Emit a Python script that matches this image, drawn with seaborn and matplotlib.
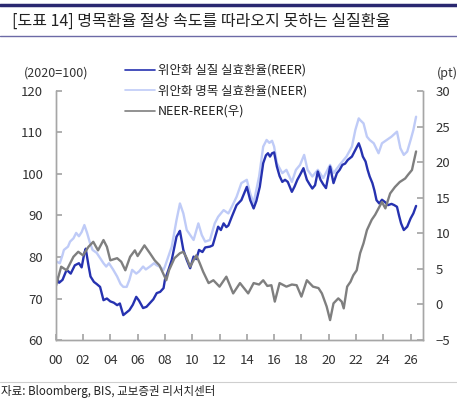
import numpy as np
import pandas as pd
import seaborn as sns
import matplotlib.pyplot as plt
from matplotlib.lines import Line2D

# 위안화 실질 실효환율 (REER), 2020=100
reer_year = [2000.0, 2000.25, 2000.5, 2000.8, 2001.1, 2001.4, 2001.7, 2001.9, 2002.1, 2002.2,
             2002.4, 2002.55, 2002.8, 2003.0, 2003.25, 2003.5, 2003.75, 2004.0, 2004.25, 2004.5,
             2004.7, 2004.95, 2005.1, 2005.4, 2005.65, 2005.9, 2006.1, 2006.4, 2006.65, 2006.9,
             2007.15, 2007.4, 2007.65, 2007.9, 2008.0, 2008.25, 2008.5, 2008.85, 2009.0, 2009.1,
             2009.35, 2009.6, 2009.85, 2010.1, 2010.3, 2010.5, 2010.75, 2010.95, 2011.3, 2011.5,
             2011.9, 2012.1, 2012.3, 2012.5, 2012.65, 2012.9, 2013.25, 2013.6, 2014.0, 2014.25,
             2014.5, 2014.7, 2014.95, 2015.2, 2015.4, 2015.55, 2015.7, 2015.85, 2016.0, 2016.2,
             2016.4, 2016.6, 2016.8, 2017.0, 2017.3, 2017.5, 2017.7, 2017.9, 2018.15, 2018.4,
             2018.6, 2018.8, 2019.0, 2019.2, 2019.4, 2019.6, 2019.8, 2020.1, 2020.35, 2020.6,
             2020.8, 2021.0, 2021.2, 2021.4, 2021.7, 2021.95, 2022.2, 2022.35, 2022.5, 2022.7,
             2022.85, 2023.0, 2023.2, 2023.35, 2023.5, 2023.7, 2023.9, 2024.1, 2024.35, 2024.6,
             2024.8, 2025.0, 2025.15, 2025.3, 2025.5, 2025.75, 2026.0, 2026.2, 2026.4]
reer = [75.5, 73.8, 74.5, 76.9, 76.0, 78.0, 78.5, 77.5, 81.0, 82.0,
        78.0, 75.3, 74.0, 73.5, 72.8, 69.6, 70.0, 69.3, 69.0, 68.4,
        68.8, 66.0, 66.4, 67.2, 68.5, 70.4, 69.5, 67.7, 68.0, 68.9,
        69.8, 71.3, 71.6, 72.5, 74.5, 76.8, 79.3, 84.9, 85.7, 86.3,
        81.7, 79.3, 77.3, 80.1, 79.5, 81.7, 81.2, 82.3, 82.5, 82.8,
        87.3, 86.5, 88.1, 87.2, 87.6, 89.7, 92.5, 93.7, 96.9, 93.7,
        91.7, 93.5, 96.9, 102.6, 104.5, 105.0, 104.2, 105.0, 105.2, 101.8,
        99.5, 98.1, 98.6, 98.1, 95.7, 97.0, 98.6, 99.8, 101.4, 98.6,
        97.5, 96.5, 97.3, 100.6, 98.6, 97.5, 96.6, 101.8, 97.8, 100.2,
        101.0, 102.2, 102.5, 103.4, 104.2, 105.8, 107.4, 106.0, 104.2, 103.0,
        101.0, 99.4, 97.8, 96.0, 93.7, 92.9, 93.8, 93.3, 92.5, 92.8,
        92.5, 92.1, 90.0, 88.1, 86.5, 87.3, 89.3, 90.5, 92.3]

# 위안화 명목 실효환율 (NEER), 2020=100
neer_year = [2000.0, 2000.3, 2000.5, 2000.6, 2000.9, 2001.05, 2001.3, 2001.5, 2001.7, 2001.9,
             2002.1, 2002.3, 2002.5, 2002.7, 2003.0, 2003.2, 2003.5, 2003.7, 2003.9, 2004.2,
             2004.5, 2004.75, 2004.95, 2005.2, 2005.4, 2005.6, 2005.9, 2006.1, 2006.4, 2006.6,
             2006.9, 2007.2, 2007.4, 2007.6, 2007.9, 2008.0, 2008.5, 2008.85, 2009.1, 2009.35,
             2009.6, 2009.85, 2010.1, 2010.45, 2010.7, 2010.95, 2011.3, 2011.65, 2011.9, 2012.3,
             2012.65, 2012.9, 2013.25, 2013.6, 2014.0, 2014.25, 2014.5, 2014.9, 2015.2, 2015.45,
             2015.65, 2015.85, 2016.0, 2016.2, 2016.6, 2016.9, 2017.3, 2017.6, 2017.9, 2018.2,
             2018.45, 2018.8, 2019.2, 2019.6, 2020.1, 2020.35, 2020.8, 2021.3, 2021.7, 2021.95,
             2022.2, 2022.3, 2022.55, 2022.8, 2023.0, 2023.3, 2023.65, 2023.9, 2024.25, 2024.6,
             2025.0, 2025.25, 2025.5, 2025.75, 2026.0, 2026.2, 2026.4]
neer = [79.0, 78.5, 80.5, 81.7, 82.5, 83.7, 84.5, 85.8, 85.0, 86.0,
        87.7, 85.8, 83.5, 81.7, 81.0, 80.0, 78.5, 77.7, 78.5, 77.0,
        75.3, 73.5, 72.8, 72.8, 74.5, 76.9, 76.0, 76.5, 77.7, 77.0,
        77.7, 78.5, 78.0, 77.7, 76.9, 77.7, 82.5, 88.9, 92.9, 90.5,
        86.5, 85.3, 84.1, 88.1, 85.3, 83.7, 84.1, 88.1, 89.7, 91.3,
        90.5, 92.1, 94.5, 97.8, 98.6, 95.3, 93.0, 99.4, 106.6, 108.2,
        107.5, 108.0, 106.6, 102.6, 100.2, 101.0, 98.1, 101.0, 102.2, 104.6,
        101.0, 99.4, 101.0, 99.0, 102.2, 100.2, 102.2, 104.2, 106.6, 110.6,
        113.4, 113.0, 112.2, 109.0, 108.2, 107.4, 105.0, 107.4, 108.2, 109.0,
        110.2, 106.2, 104.6, 105.4, 108.2, 110.6, 113.8]

# NEER-REER (우축, pt)
gap_year = [2000.0, 2000.4, 2000.8, 2001.3, 2001.65, 2002.0, 2002.4, 2002.75, 2003.1, 2003.5,
            2003.75, 2004.0, 2004.5, 2004.8, 2005.1, 2005.45, 2005.8, 2006.0, 2006.5, 2006.9,
            2007.25, 2007.6, 2008.1, 2008.3, 2008.7, 2009.1, 2009.35, 2009.6, 2009.85, 2010.1,
            2010.3, 2010.55, 2010.8, 2011.2, 2011.55, 2012.0, 2012.5, 2013.0, 2013.5, 2014.1,
            2014.5, 2014.9, 2015.2, 2015.5, 2015.8, 2016.05, 2016.4, 2016.9, 2017.3, 2017.65,
            2018.0, 2018.4, 2018.85, 2019.25, 2019.5, 2019.85, 2020.1, 2020.35, 2020.7, 2020.95,
            2021.1, 2021.35, 2021.6, 2021.8, 2022.05, 2022.3, 2022.55, 2022.8, 2023.15, 2023.4,
            2023.65, 2023.9, 2024.15, 2024.5, 2024.85, 2025.2, 2025.6, 2025.8, 2026.1, 2026.2,
            2026.4]
gap = [2.5, 5.3, 4.8, 6.7, 7.4, 6.9, 8.1, 8.8, 7.6, 9.05,
       8.1, 6.2, 6.5, 6.0, 4.8, 6.7, 7.6, 6.8, 8.3, 7.2,
       6.2, 5.5, 3.4, 4.8, 6.5, 7.2, 7.4, 6.5, 5.3, 6.2,
       6.9, 5.8, 4.6, 3.0, 3.4, 2.5, 3.9, 1.55, 3.0, 1.55,
       3.0, 2.8, 3.4, 2.6, 2.7, 0.4, 3.0, 2.5, 2.8, 2.7,
       1.1, 3.4, 2.5, 2.3, 1.55, -0.3, -2.2, 0.15, 0.85, 0.4,
       -0.55, 2.5, 3.2, 4.1, 4.8, 7.2, 8.6, 10.45, 11.9, 12.6,
       13.5, 14.4, 13.5, 15.6, 16.5, 17.2, 17.7, 18.2, 18.9, 19.8,
       21.5]

xticks = list(range(2000, 2027, 2))
xlabels = [f"{y % 100:02d}" for y in xticks]

sns.set_theme(style="white")
plt.rcParams['font.family'] = ['Noto Sans CJK KR', 'DejaVu Sans']

c_reer = "#2632B0"
c_neer = "#BFCBF7"
c_gap = "#7F7F7F"
c_spine = "#A6A6A6"
c_text = "#333333"

fig = plt.figure(figsize=(4.57, 4.01), dpi=100)
ax = fig.add_axes([0.1219, 0.1521, 0.8044, 0.621])
ax2 = ax.twinx()

df_r = pd.DataFrame({"year": reer_year, "val": reer})
df_n = pd.DataFrame({"year": neer_year, "val": neer})
df_g = pd.DataFrame({"year": gap_year, "val": gap})

sns.lineplot(data=df_n, x="year", y="val", ax=ax, color=c_neer, lw=1.7)
sns.lineplot(data=df_r, x="year", y="val", ax=ax, color=c_reer, lw=1.7)
sns.lineplot(data=df_g, x="year", y="val", ax=ax2, color=c_gap, lw=1.7)

ax.set_xlim(2000, 2026.93)
ax.set_ylim(60, 120)
ax2.set_ylim(-5, 30)
ax.set_yticks(range(60, 121, 10))
ax2.set_yticks(range(-5, 31, 5))
ax.set_xticks(xticks)
ax.set_xticklabels(xlabels)
for a in (ax, ax2):
    a.set_xlabel("")
    a.set_ylabel("")
    a.spines["top"].set_visible(False)
    for s in ("left", "right", "bottom"):
        a.spines[s].set_color(c_spine)
        a.spines[s].set_linewidth(1.0)
ax.tick_params(axis="y", direction="in", length=4, color=c_spine, labelsize=9.5,
               labelcolor=c_text, pad=9, left=True)
ax.tick_params(axis="x", direction="in", length=4, color=c_spine, labelsize=9.5,
               labelcolor=c_text, pad=10, bottom=True)
ax2.tick_params(axis="y", direction="in", length=4, color=c_spine, labelsize=9.5,
                labelcolor=c_text, pad=9, right=True)
ax.grid(False)
ax2.grid(False)

handles = [Line2D([], [], color=c_reer, lw=1.2),
           Line2D([], [], color=c_neer, lw=1.2),
           Line2D([], [], color=c_gap, lw=1.2)]
labels = ["위안화 실질 실효환율(REER)", "위안화 명목 실효환율(NEER)", "NEER-REER(우)"]
fig.legend(handles, labels, loc="upper left", bbox_to_anchor=(125 / 457, 1 - 64 / 401),
           frameon=False, fontsize=9, handlelength=2.4, handletextpad=0.2,
           labelspacing=0.6, borderpad=0, borderaxespad=0, labelcolor="#222222")

fig.text(56 / 457, 1 - 73 / 401, "(2020=100)", ha="center", va="center", fontsize=9, color=c_text)
fig.text(437 / 457, 1 - 73 / 401, "(pt)", ha="left", va="center", fontsize=9, color=c_text)

# header and footer decorations
fig.add_artist(Line2D([0, 1], [1 - 5 / 401] * 2, color="#2A2870", lw=2.5, transform=fig.transFigure))
fig.add_artist(Line2D([0, 1], [1 - 36 / 401] * 2, color="#6C6AA6", lw=1.0, transform=fig.transFigure))
fig.add_artist(Line2D([0, 1], [1 - 382 / 401] * 2, color="#CFCFCF", lw=0.8, transform=fig.transFigure))
fig.text(12 / 457, 1 - 21 / 401, "[도표 14] 명목환율 절상 속도를 따라오지 못하는 실질환율",
         ha="left", va="center", fontsize=11.5, color="#222222")
fig.text(0.002, 1 - 392 / 401, "자료: Bloomberg, BIS, 교보증권 리서치센터",
         ha="left", va="center", fontsize=8.3, color="#222222")

fig.savefig("out.png", dpi=100)
